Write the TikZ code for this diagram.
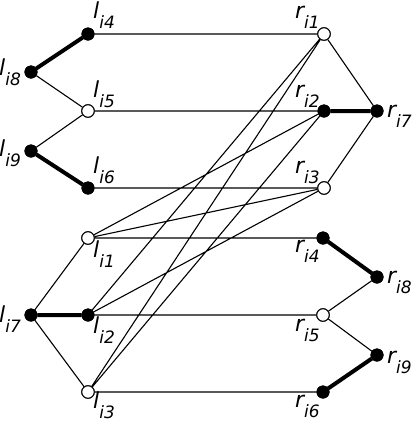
\documentclass[tikz,border=0pt]{standalone}
\usepackage{fontspec}
\setmainfont{DejaVu Sans}
\newcommand{\lbl}[2]{\fontsize{22}{22}\selectfont\itshape #1\raisebox{-10.5pt}{\fontsize{17}{17}\selectfont #2}}
\tikzset{
  full/.style={circle,draw,fill=black,inner sep=0pt,minimum size=12.5pt},
  empty/.style={circle,draw,fill=white,inner sep=0pt,minimum size=12.5pt,line width=1pt},
  thin/.style={line width=1.1pt},
  bold/.style={line width=4pt},
  lab/.style={inner sep=0pt,anchor=base west}
}
\begin{document}
\begin{tikzpicture}[x=1pt,y=-1pt]
\useasboundingbox (0,0) rectangle (415,424);
% left top
\node[full]  (l4) at (88,34) {};
\node[full]  (l8) at (31,72) {};
\node[empty] (l5) at (88,111) {};
\node[full]  (l9) at (31,151) {};
\node[full]  (l6) at (88,188) {};
% right top
\node[empty] (r1) at (324,34) {};
\node[full]  (r2) at (324,111) {};
\node[full]  (r7) at (377,111) {};
\node[empty] (r3) at (324,188) {};
% left bottom
\node[empty] (l1) at (88,238) {};
\node[full]  (l7) at (31,315) {};
\node[full]  (l2) at (88,315) {};
\node[empty] (l3) at (88,392) {};
% right bottom
\node[full]  (r4) at (323,238) {};
\node[full]  (r8) at (377,277) {};
\node[empty] (r5) at (323,315) {};
\node[full]  (r9) at (377,355) {};
\node[full]  (r6) at (323,392) {};
% edges
\draw[thin] (l4) -- (r1) (l5) -- (r2) (l6) -- (r3)
            (l1) -- (r4) (l2) -- (r5) (l3) -- (r6)
            (l8) -- (l5) (l9) -- (l5) (l7) -- (l1) (l7) -- (l3)
            (r1) -- (r7) (r3) -- (r7) (r8) -- (r5) (r9) -- (r5)
            (l1) -- (r2) (l1) -- (r3) (l2) -- (r1) (l2) -- (r3)
            (l3) -- (r1) (l3) -- (r2);
\draw[bold] (l8) -- (l4) (l9) -- (l6) (l7) -- (l2)
            (r2) -- (r7) (r4) -- (r8) (r9) -- (r6);
% redraw nodes on top
\foreach \n in {l5,r1,r3,l1,l3,r5} \node[empty] at (\n) {};
\foreach \n in {l4,l8,l9,l6,r2,r7,l7,l2,r4,r8,r9,r6} \node[full] at (\n) {};
% labels
\node[lab] (tl4) at (93,18) {\lbl{l}{i4}};
\node[lab] (tl8) at (-1,75) {\lbl{l}{i8}};
\node[lab] (tl5) at (93,97) {\lbl{l}{i5}};
\node[lab] (tl9) at (-1,156) {\lbl{l}{i9}};
\node[lab] (tl6) at (93,173) {\lbl{l}{i6}};
\node[lab] (tr1) at (295,18) {\lbl{r}{i1}};
\node[lab] (tr2) at (295,97) {\lbl{r}{i2}};
\node[lab] (tr7) at (387,117) {\lbl{r}{i7}};
\node[lab] (tr3) at (295,173) {\lbl{r}{i3}};
\node[lab] (tl1) at (93,257) {\lbl{l}{i1}};
\node[lab] (tl7) at (-1,322) {\lbl{l}{i7}};
\node[lab] (tl2) at (93,333) {\lbl{l}{i2}};
\node[lab] (tl3) at (93,408) {\lbl{l}{i3}};
\node[lab] (tr4) at (295,252) {\lbl{r}{i4}};
\node[lab] (tr8) at (387,283) {\lbl{r}{i8}};
\node[lab] (tr5) at (295,331) {\lbl{r}{i5}};
\node[lab] (tr9) at (387,363) {\lbl{r}{i9}};
\node[lab] (tr6) at (295,407) {\lbl{r}{i6}};
\end{tikzpicture}
\end{document}
